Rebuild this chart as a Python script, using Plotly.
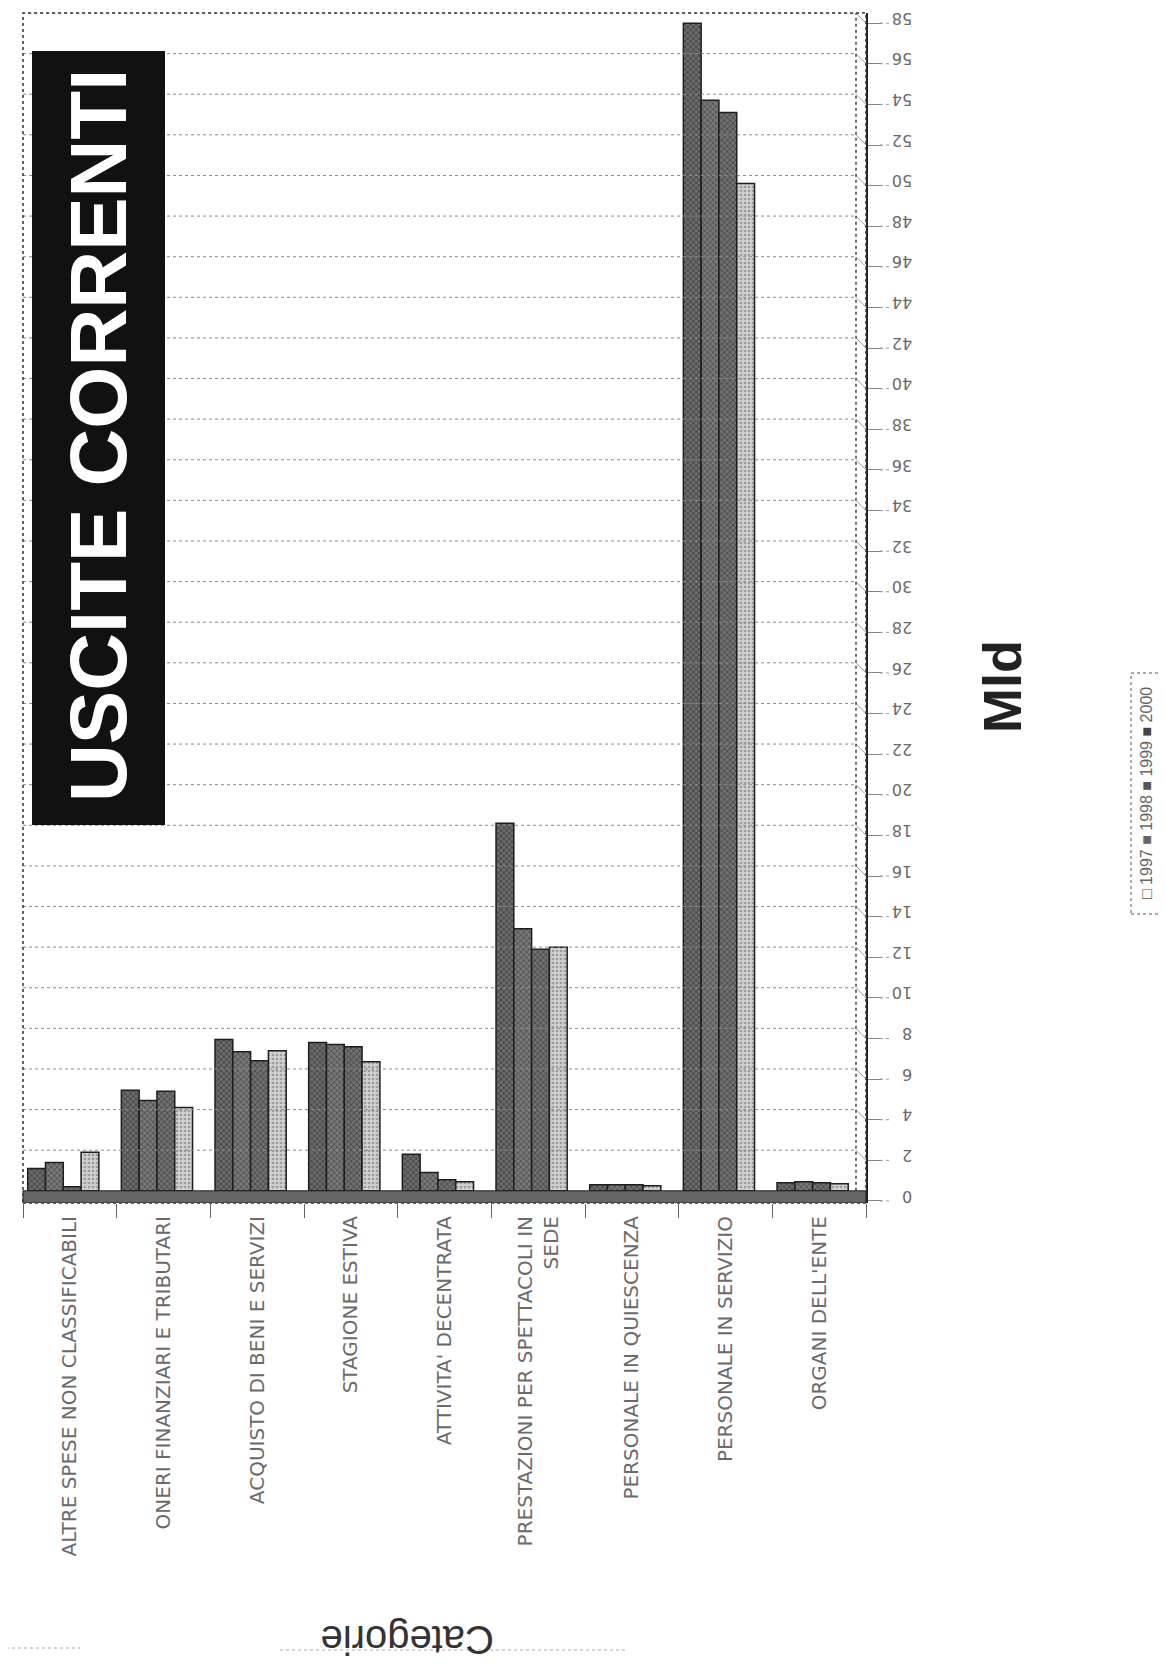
import plotly.graph_objects as go

categories = [
    "ALTRE SPESE NON CLASSIFICABILI",
    "ONERI FINANZIARI E TRIBUTARI",
    "ACQUISTO DI BENI E SERVIZI",
    "STAGIONE ESTIVA",
    "ATTIVITA' DECENTRATA",
    "PRESTAZIONI PER SPETTACOLI IN<br>SEDE",
    "PERSONALE IN QUIESCENZA",
    "PERSONALE IN SERVIZIO",
    "ORGANI DELL'ENTE",
]

years = ["1997", "1998", "1999", "2000"]
v1997 = [1.9, 4.1, 6.9, 6.35, 0.45, 12.0, 0.25, 49.6, 0.35]
v1998 = [0.2, 4.9, 6.4, 7.1, 0.55, 11.9, 0.3, 53.1, 0.4]
v1999 = [1.4, 4.45, 6.85, 7.2, 0.9, 12.9, 0.3, 53.7, 0.45]
v2000 = [1.1, 4.95, 7.45, 7.3, 1.8, 18.1, 0.3, 57.5, 0.4]

title_text = "USCITE CORRENTI"
value_title = "Mld"
category_title = "Categorie"
y_ticks = list(range(0, 60, 2))

# plot area in page pixels (page has an 8px body margin)
W, H = 1166, 1669
OFF = 8
PL, PR, PT, PB = 23, 866, 13, 1203
pw, ph = PR - PL, PB - PT
Y_MIN, Y_MAX = -0.6, 58
DEPTH = 0.5  # 3D offset of front axis (data units)
BACK_X = 856


def px(x):
    return (x - PL) / pw


def py(y):
    return (PB - y) / ph


series = [
    ("2000", v2000, "#6a6a6a", "#111111", "x", -0.45),
    ("1999", v1999, "#787878", "#1a1a1a", "x", -0.26),
    ("1998", v1998, "#707070", "#151515", "x", -0.07),
    ("1997", v1997, "#d0d0d0", "#666666", ".", 0.12),
]

fig = go.Figure()
for name, vals, bg, fg, shp, off in series:
    fig.add_trace(go.Bar(
        x=categories, y=vals, name=name, showlegend=False,
        width=0.19, offset=off,
        marker=dict(color=bg, line=dict(color="#1e1e1e", width=1.5),
                    pattern=dict(shape=shp, fgcolor=fg, bgcolor=bg, size=4, solidity=0.35)),
    ))

fig.update_layout(
    width=W, height=H,
    margin=dict(l=PL - OFF, r=W - (PR - OFF), t=PT - OFF, b=H - (PB - OFF)),
    paper_bgcolor="white", plot_bgcolor="white",
    barmode="overlay",
    font=dict(family="DejaVu Sans, Liberation Sans, sans-serif", color="#555"),
    xaxis=dict(
        tickangle=-90, tickfont=dict(size=20, color="#6a6a6a", family="DejaVu Sans"),
        ticks="outside", tickson="boundaries", ticklen=14, tickcolor="#666",
        ticklabelstandoff=8,
        showline=False, showgrid=False, automargin=False,
    ),
    yaxis=dict(
        side="right", range=[Y_MIN, Y_MAX],
        tickvals=[t - DEPTH for t in y_ticks], ticktext=[str(t) for t in y_ticks],
        tickangle=180, tickfont=dict(size=16, color="#6a6a6a", family="DejaVu Sans"),
        ticks="outside", ticklen=14, tickcolor="#888",
        ticklabelstandoff=27,
        showgrid=False, automargin=False,
        showline=True, linecolor="#222", linewidth=2, zeroline=False,
    ),
)

shapes = []
# gridlines on back wall + 3D connectors to the front axis
for t in y_ticks[1:]:
    shapes.append(dict(type="line", xref="paper", yref="y", x0=0, x1=px(BACK_X), y0=t, y1=t,
                       line=dict(color="#8a8a8a", width=1, dash="dot")))
    shapes.append(dict(type="line", xref="paper", yref="y", x0=px(BACK_X), x1=1, y0=t, y1=t - DEPTH,
                       line=dict(color="#9a9a9a", width=1)))
# dotted tick leaders between the axis and the labels
for t in y_ticks:
    shapes.append(dict(type="line", xref="paper", yref="y", x0=px(PR + 14), x1=px(PR + 26),
                       y0=t - DEPTH, y1=t - DEPTH, line=dict(color="#999", width=1, dash="dot")))
# plot border (dotted)
shapes.append(dict(type="rect", xref="paper", yref="paper", x0=0, x1=1, y0=0, y1=1,
                   line=dict(color="#333", width=1.5, dash="dot"), layer="above"))
# back wall right line (3D depth)
shapes.append(dict(type="line", xref="paper", yref="y", x0=px(BACK_X), x1=px(BACK_X), y0=0, y1=Y_MAX,
                   line=dict(color="#444", width=1.5, dash="dot")))
# floor band
shapes.append(dict(type="rect", xref="paper", yref="y", x0=0, x1=1, y0=Y_MIN, y1=0,
                   fillcolor="#666", line=dict(color="#222", width=1), layer="above"))
# title box
shapes.append(dict(type="rect", xref="paper", yref="paper", x0=px(32), x1=px(165), y0=py(825), y1=py(51),
                   fillcolor="#111", line=dict(width=0), layer="above"))
# legend box
shapes.append(dict(type="rect", xref="paper", yref="paper", x0=px(1131), x1=px(1162), y0=py(914), y1=py(673),
                   line=dict(color="#555", width=1, dash="dot"), fillcolor="white"))
# faint dotted lines near category title
shapes.append(dict(type="line", xref="paper", yref="paper", x0=px(0), x1=px(80), y0=py(1648), y1=py(1648),
                   line=dict(color="#aaa", width=1, dash="dot")))
shapes.append(dict(type="line", xref="paper", yref="paper", x0=px(280), x1=px(625), y0=py(1650), y1=py(1650),
                   line=dict(color="#aaa", width=1, dash="dot")))
fig.update_layout(shapes=shapes)

swatch = {"1997": "<span style='color:#555'>□</span>",
          "1998": "<span style='color:#666'>■</span>",
          "1999": "<span style='color:#555'>■</span>",
          "2000": "<span style='color:#444'>■</span>"}
legend_text = " ".join(swatch[y] + " " + y for y in years)

annotations = [
    dict(text="<b>" + title_text + "</b>", xref="paper", yref="paper", x=px(99), y=py(436),
         showarrow=False, textangle=-90, font=dict(size=80, color="white", family="Liberation Sans, Arial"),
         xanchor="center", yanchor="middle"),
    dict(text="<b>" + value_title + "</b>", xref="paper", yref="paper", x=px(1002), y=py(686),
         showarrow=False, textangle=-90, font=dict(size=54, color="#222", family="Liberation Sans, Arial"),
         xanchor="center", yanchor="middle"),
    dict(text=category_title, xref="paper", yref="paper", x=px(408), y=py(1640),
         showarrow=False, textangle=180, font=dict(size=40, color="#333", family="Liberation Sans, Arial"),
         xanchor="center", yanchor="middle"),
    dict(text=legend_text, xref="paper", yref="paper", x=px(1146), y=py(793),
         showarrow=False, textangle=-90, font=dict(size=16, color="#666", family="Liberation Sans, Arial"),
         xanchor="center", yanchor="middle"),
]
fig.update_layout(annotations=annotations)

fig.write_html("out.html")
